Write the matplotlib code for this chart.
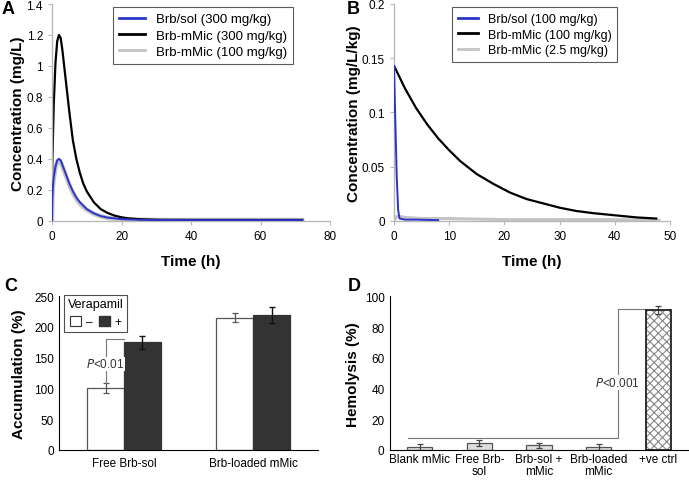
import numpy as np
import matplotlib
matplotlib.use('Agg')
import matplotlib.pyplot as plt
from matplotlib.patches import Patch

plt.rcParams['font.family'] = ['Liberation Sans', 'DejaVu Sans']
plt.rcParams['hatch.linewidth'] = 0.8

# ── Panel A: plasma concentration (mg/L) ─────────────────────────────────────
a_t_black = [0, 0.5, 1, 1.5, 2, 2.5, 3, 3.5, 4, 5, 6, 7, 8, 9, 10, 12, 14, 16, 18, 20, 22, 25, 30, 40, 50, 60, 72]
a_black = [0.28, 0.75, 1.02, 1.16, 1.2, 1.18, 1.1, 1.0, 0.9, 0.7, 0.52, 0.4, 0.31, 0.24, 0.19, 0.12, 0.075,
           0.05, 0.033, 0.022, 0.015, 0.01, 0.006, 0.005, 0.005, 0.005, 0.005]
a_t_blue = [0, 0.1, 0.25, 0.5, 1, 1.5, 2, 2.5, 3, 4, 5, 6, 7, 8, 10, 12, 14, 16, 20, 25, 30, 40, 50, 60, 72]
a_blue = [0, 0.15, 0.22, 0.28, 0.35, 0.39, 0.4, 0.39, 0.36, 0.3, 0.24, 0.19, 0.15, 0.12, 0.075, 0.048, 0.03,
          0.02, 0.01, 0.006, 0.005, 0.004, 0.004, 0.004, 0.004]
a_gray = [0, 0.14, 0.21, 0.27, 0.34, 0.38, 0.39, 0.38, 0.35, 0.29, 0.23, 0.18, 0.14, 0.11, 0.07, 0.045, 0.028,
          0.018, 0.009, 0.006, 0.005, 0.004, 0.004, 0.004, 0.004]

# ── Panel B: concentration (mg/L/kg) ────────────────────────────────────────
b_t_black = [0, 2, 4, 6, 8, 10, 12, 15, 18, 21, 24, 27, 30, 33, 36, 40, 44, 47.5]
b_black = [0.143, 0.122, 0.104, 0.089, 0.076, 0.065, 0.055, 0.043, 0.034, 0.026, 0.020, 0.016, 0.012,
           0.009, 0.007, 0.005, 0.003, 0.002]
b_t_blue = [0, 0.25, 0.5, 0.75, 1, 2, 4, 8]
b_blue = [0.143, 0.09, 0.04, 0.01, 0.002, 0.001, 0.001, 0.0005]
b_t_gray = [0, 0.5, 1, 2, 5, 10, 20, 30, 40, 48]
b_gray = [0.0, 0.004, 0.004, 0.003, 0.002, 0.002, 0.001, 0.001, 0.001, 0.0005]

# ── Panel C: accumulation (%) ───────────────────────────────────────────────
c_groups = ['Free Brb-sol', 'Brb-loaded mMic']
c_without = [100, 215]
c_without_err = [8, 7]
c_with = [175, 220]
c_with_err = [11, 13]

# ── Panel D: hemolysis (%) ──────────────────────────────────────────────────
d_groups = ['Blank mMic', 'Free Brb-\nsol', 'Brb-sol +\nmMic', 'Brb-loaded\nmMic', '+ve ctrl']
d_values = [2, 4.5, 3, 2, 91]
d_err = [2, 2, 1.8, 2, 2.5]

BLUE = '#2a35c8'
LGRAY = '#c4c4c4'
TICK = 8.5
LAB = 11

fig = plt.figure(figsize=(6.89, 4.81), dpi=100)
W, H = 689, 481


def add_ax(x0, y0, x1, y1):
    return fig.add_axes([x0 / W, 1 - y1 / H, (x1 - x0) / W, (y1 - y0) / H])


def style_line_ax(ax):
    for s in ['top', 'right']:
        ax.spines[s].set_visible(False)
    for s in ['left', 'bottom']:
        ax.spines[s].set_color('#b8b8b8')
        ax.spines[s].set_linewidth(1.0)
    ax.tick_params(colors='#b8b8b8', labelcolor='black', labelsize=TICK, length=3, width=0.8)


def line_legend(ax, x_anchor, fs, hl):
    h, l = ax.get_legend_handles_labels()
    order = [1, 2, 0]
    leg = ax.legend([h[i] for i in order], [l[i] for i in order], loc='upper left',
                    bbox_to_anchor=(x_anchor, 0.985), fontsize=fs, frameon=True, fancybox=False,
                    edgecolor='#333333', handlelength=hl, handletextpad=0.8, borderpad=0.45,
                    labelspacing=0.3, borderaxespad=0)
    leg.get_frame().set_linewidth(0.8)
    for lh in leg.get_lines():
        lh.set_linewidth(2)


# Panel A
axA = add_ax(52, 5, 330, 221.7)
axA.plot(a_t_blue, a_gray, color=LGRAY, lw=3.2, label='Brb-mMic (100 mg/kg)', zorder=1)
axA.plot(a_t_blue, a_blue, color=BLUE, lw=1.4, label='Brb/sol (300 mg/kg)', zorder=3)
axA.plot(a_t_black, a_black, color='black', lw=1.6, label='Brb-mMic (300 mg/kg)', zorder=2)
axA.set_xlim(0, 80)
axA.set_ylim(0, 1.4)
axA.set_xticks([0, 20, 40, 60, 80])
axA.set_yticks([0, 0.2, 0.4, 0.6, 0.8, 1, 1.2, 1.4])
axA.set_yticklabels(['0', '0.2', '0.4', '0.6', '0.8', '1', '1.2', '1.4'])
style_line_ax(axA)
axA.set_xlabel('Time (h)', fontsize=LAB, fontweight='bold', labelpad=9)
axA.set_ylabel('Concentration (mg/L)', fontsize=LAB, fontweight='bold', labelpad=1)
line_legend(axA, 0.22, 9.5, 2.0)

# Panel B
axB = add_ax(394, 5, 670, 221.7)
axB.plot(b_t_gray, b_gray, color=LGRAY, lw=2.2, label='Brb-mMic (2.5 mg/kg)', zorder=1)
axB.plot(b_t_blue, b_blue, color=BLUE, lw=1.4, label='Brb/sol (100 mg/kg)', zorder=3)
axB.plot(b_t_black, b_black, color='black', lw=1.6, label='Brb-mMic (100 mg/kg)', zorder=2)
axB.set_xlim(0, 50)
axB.set_ylim(0, 0.2)
axB.set_xticks([0, 10, 20, 30, 40, 50])
axB.set_yticks([0, 0.05, 0.1, 0.15, 0.2])
axB.set_yticklabels(['0', '0.05', '0.1', '0.15', '0.2'])
style_line_ax(axB)
axB.set_xlabel('Time (h)', fontsize=LAB, fontweight='bold', labelpad=9)
axB.set_ylabel('Concentration (mg/L/kg)', fontsize=LAB, fontweight='bold', labelpad=0.5)
line_legend(axB, 0.21, 9, 1.6)

# Panel C
axC = add_ax(59.3, 297.3, 318, 450.7)
xc = np.arange(len(c_groups))
bw = 0.285
axC.bar(xc - bw / 2, c_without, bw, color='white', edgecolor='#555555', lw=0.9,
        yerr=c_without_err, capsize=2.5, error_kw=dict(ecolor='#555555', elinewidth=0.9, capthick=0.9))
axC.bar(xc + bw / 2, c_with, bw, color='#333333', edgecolor='#333333', lw=0.9,
        yerr=c_with_err, capsize=2.5, error_kw=dict(ecolor='#111111', elinewidth=1.0, capthick=1.0))
axC.set_xlim(-0.5, 1.5)
axC.set_ylim(0, 250)
axC.set_yticks([0, 50, 100, 150, 200, 250])
axC.set_xticks(xc)
axC.set_xticklabels(c_groups)
for s in ['top', 'right']:
    axC.spines[s].set_visible(False)
axC.tick_params(axis='x', length=0, labelsize=TICK, pad=5)
axC.tick_params(axis='y', length=0, labelsize=TICK, pad=4)
axC.set_ylabel('Accumulation (%)', fontsize=LAB, fontweight='bold', labelpad=6)
# significance bracket
xl = xc[0] - bw / 2
axC.plot([xl, xl, xc[0]], [c_without[0] + c_without_err[0], 180, 180], color='#777777', lw=0.8)
axC.text(xl, 140, '$\\it{P}$<0.01', ha='center', va='center', fontsize=8.5, color='#333333',
         bbox=dict(facecolor='white', edgecolor='none', pad=0.5))
legC = axC.legend(handles=[Patch(facecolor='white', edgecolor='#333333', lw=0.8),
                           Patch(facecolor='#333333', edgecolor='#333333')],
                  labels=['–', '+'], title='Verapamil', ncol=2, loc='upper left',
                  bbox_to_anchor=(0.02, 1.01), fontsize=8.5, title_fontsize=9, frameon=True,
                  fancybox=False, edgecolor='#222222', handlelength=0.9, handleheight=0.9,
                  handletextpad=0.4, columnspacing=0.6, borderpad=0.3, borderaxespad=0)
legC.get_frame().set_linewidth(0.8)

# Panel D
axD = add_ax(390, 297.3, 688, 451)
xd = np.arange(len(d_groups))
bwd = 0.42
bars = axD.bar(xd, d_values, bwd, color='#dedede', edgecolor='#555555', lw=0.9,
               yerr=d_err, capsize=2.5, error_kw=dict(ecolor='#444444', elinewidth=0.9, capthick=0.9),
               zorder=2)
# hatched positive control: gray crosshatch, dark outline drawn on top
bars[-1].set_facecolor('white')
bars[-1].set_edgecolor('#858585')
bars[-1].set_hatch('xxxx')
bars[-1].set_linewidth(0)
axD.bar(xd[-1:], d_values[-1:], bwd, color='none', edgecolor='#222222', lw=1.3, zorder=2.5)
axD.set_xlim(-0.5, 4.5)
axD.set_ylim(0, 100)
axD.set_yticks([0, 20, 40, 60, 80, 100])
axD.set_xticks(xd)
axD.set_xticklabels(d_groups, linespacing=1.05)
for s in ['top', 'right']:
    axD.spines[s].set_visible(False)
axD.tick_params(axis='x', length=0, labelsize=TICK, pad=2)
axD.tick_params(axis='y', length=0, labelsize=TICK, pad=4)
axD.set_ylabel('Hemolysis (%)', fontsize=LAB, fontweight='bold', labelpad=3)
xv = 3.32
axD.plot([xd[0] - 0.2, xv, xv, xd[4] - bwd / 2], [7.6, 7.6, 91.5, 91.5], color='#777777', lw=0.8)
axD.text(xv, 44, '$\\it{P}$<0.001', ha='center', va='center', fontsize=8.5, color='#333333',
         bbox=dict(facecolor='white', edgecolor='none', pad=0.5))

# panel letters
for txt, x, y in [('A', 2, 1), ('B', 347, 1), ('C', 4, 278), ('D', 348, 278)]:
    fig.text(x / W, 1 - y / H, txt, fontsize=13, fontweight='bold', va='top', ha='left')

fig.savefig('out.png', dpi=100)
